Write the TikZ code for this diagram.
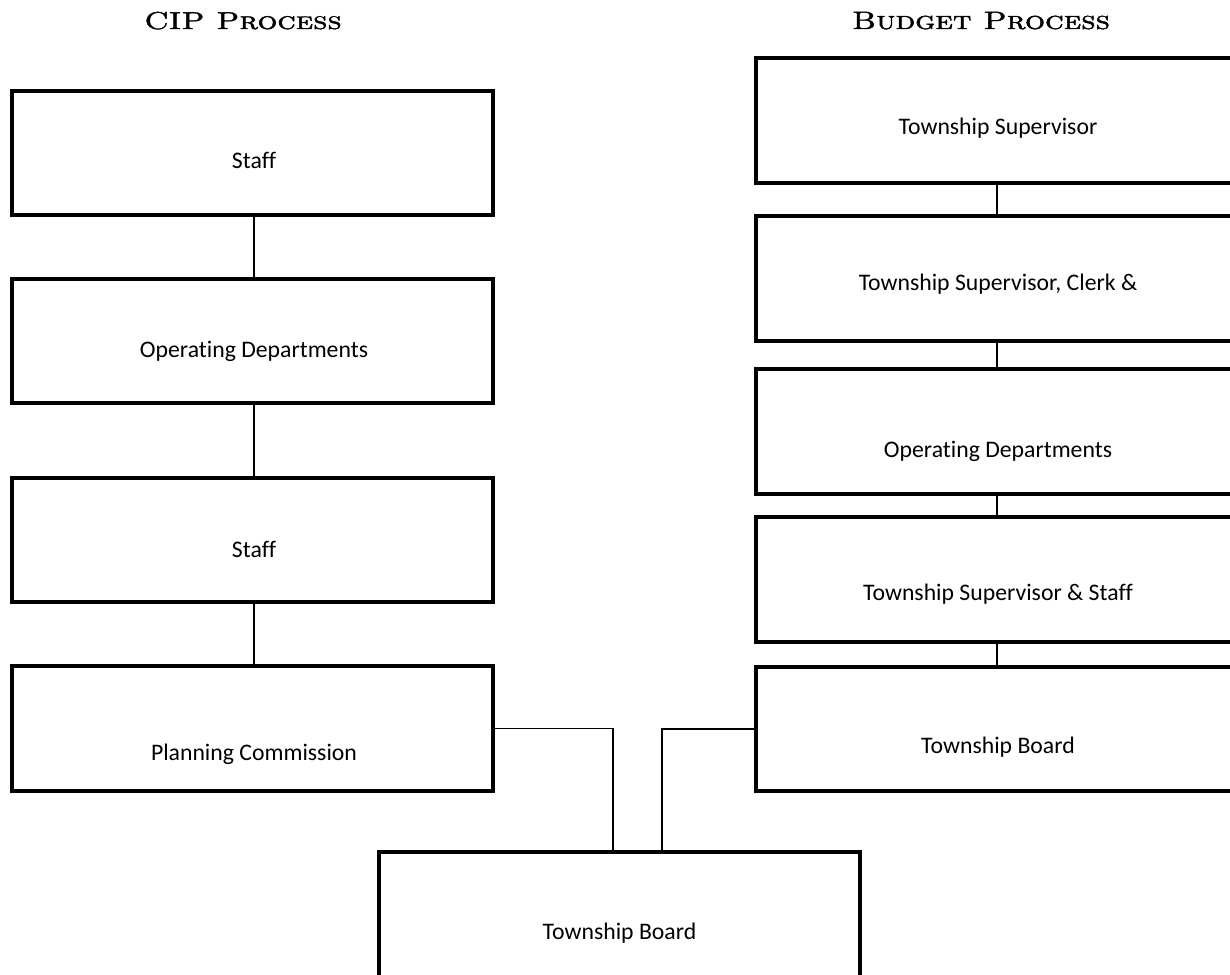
\documentclass[tikz,border=0pt]{standalone}
\usepackage{fontspec}
\newfontfamily\boxfont[Ligatures=NoCommon]{Carlito}
\newfontfamily\ttlfont[FakeBold=1.6]{Latin Modern Roman Caps}
\usetikzlibrary{calc}
\begin{document}
\begin{tikzpicture}[x=0.75pt,y=-0.75pt,
  box/.style={draw=black,line width=2.4pt,fill=white,inner sep=0pt,outer sep=0pt},
  lbox/.style={box,minimum width=481\unitpx,minimum height=124\unitpx},
  rbox/.style={box,minimum width=484\unitpx,minimum height=125\unitpx},
  btext/.style={inner sep=0pt,font=\boxfont\fontsize{17.8}{20}\selectfont,anchor=center},
  ttl/.style={inner sep=0pt,anchor=base},
  conn/.style={draw=black,line width=1.4pt}]
\def\unitpx{*0.75pt}
\useasboundingbox (0,0) rectangle (1230,974);
\clip (0,0) rectangle (1230,974);
% titles
\node[ttl] (t1) at (243,29) {\resizebox{148pt}{12.9pt}{\ttlfont CIP Process}};
\node[ttl] (t2) at (981,29) {\resizebox{193.5pt}{12.9pt}{\ttlfont Budget Process}};
% left column
\node[lbox] (L1) at (252.5,153) {};
\node[lbox] (L2) at (252.5,341) {};
\node[lbox] (L3) at (252.5,540) {};
\node[lbox,minimum height=125\unitpx] (L4) at (252.5,728.5) {};
\node[btext] (L1t) at (254,160) {Staff};
\node[btext] (L2t) at (254,351) {Operating Departments};
\node[btext] (L3t) at (254,549) {Staff};
\node[btext] (L4t) at (254,754) {Planning Commission};
% right column
\node[rbox] (R1) at (998,120.5) {};
\node[rbox] (R2) at (998,278.5) {};
\node[rbox] (R3) at (998,431.5) {};
\node[rbox] (R4) at (998,579.5) {};
\node[rbox,minimum height=124\unitpx] (R5) at (998,729) {};
\node[btext] (R1t) at (998,128) {Township Supervisor};
\node[btext] (R2t) at (998,284) {Township Supervisor, Clerk \&};
\node[btext] (R3t) at (998,451) {Operating Departments};
\node[btext] (R4t) at (998,594) {Township Supervisor \& Staff};
\node[btext] (R5t) at (998,747) {Township Board};
% bottom box
\node[box,minimum width=481\unitpx,minimum height=140\unitpx] (B) at (619.5,922) {};
\node[btext] (Bt) at (619.5,933) {Township Board};
% connectors
\coordinate (cl) at (254,0);
\coordinate (cr) at (997,0);
\coordinate (jl) at (613,0);
\coordinate (jr) at (662,0);
\draw[conn] (L1.south -| cl) -- (L2.north -| cl);
\draw[conn] (L2.south -| cl) -- (L3.north -| cl);
\draw[conn] (L3.south -| cl) -- (L4.north -| cl);
\draw[conn] (R1.south -| cr) -- (R2.north -| cr);
\draw[conn] (R2.south -| cr) -- (R3.north -| cr);
\draw[conn] (R3.south -| cr) -- (R4.north -| cr);
\draw[conn] (R4.south -| cr) -- (R5.north -| cr);
\draw[conn] (L4.east) -| (B.north -| jl);
\draw[conn] (R5.west) -| (B.north -| jr);
\end{tikzpicture}
\end{document}
